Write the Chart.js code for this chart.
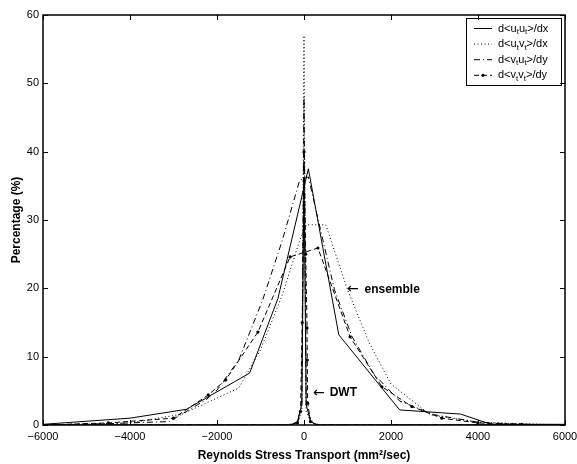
<!DOCTYPE html>
<html>
<head>
<meta charset="utf-8">
<script src="https://cdn.jsdelivr.net/npm/chart.js@4/dist/chart.umd.min.js"></script>
<style>
  html, body { margin: 0; padding: 0; background: #fff; }
  #wrap { width: 577px; height: 464px; position: relative; }
</style>
</head>
<body>
<div id="wrap"><canvas id="c" width="577" height="464"></canvas></div>
<script>
// ---------- data ----------
// Ensemble curves
const ensUUx = [-6000, -4000, -2700, -1250, -600, 100, 800, 2200, 3600, 4300, 6000];
const ensUUy = [0.1, 1.0, 2.3, 7.6, 18.5, 37.5, 13.2, 2.2, 1.6, 0.1, 0.1];

const ensUVx = [-6000, -4000, -2800, -1500, -1000, -500, -100, 50, 500, 1000, 1500, 2000, 2900, 4000, 5000, 6000];
const ensUVy = [0, 0.3, 1.6, 5.4, 11, 19, 27, 29.3, 29.3, 19.8, 12, 6, 1.5, 0.4, 0.2, 0];

const ensVUx = [-6000, -4500, -3100, -2250, -2000, -1500, -950, -500, -100, 100, 400, 700, 1100, 1600, 2200, 3000, 4000, 5000, 6000];
const ensVUy = [0, 0.2, 0.5, 3.7, 5.1, 9.5, 18.3, 27, 35.8, 36.3, 28, 19.8, 13, 7.5, 3.5, 1.5, 0.4, 0.1, 0];

const ensVVx = [-6000, -4500, -3000, -2200, -1800, -1060, -320, 320, 1060, 1790, 2480, 3170, 4000, 5000, 6000];
const ensVVy = [0, 0.3, 1.0, 4.4, 6.6, 13.6, 24.6, 25.9, 12.9, 5.6, 2.7, 1.0, 0.3, 0.1, 0];

// DWT curves (narrow spikes)
const dwtUUx = [-6000, -300, -150, -50, 0, 50, 150, 300, 6000];
const dwtUUy = [0, 0, 0.5, 3, 36, 3, 0.5, 0, 0];

const dwtUVx = [-6000, -300, -150, -50, 0, 50, 150, 300, 6000];
const dwtUVy = [0, 0, 0.3, 2, 57, 2, 0.5, 0, 0];

const dwtVUx = [-6000, -300, -150, -50, 0, 50, 150, 300, 6000];
const dwtVUy = [0, 0, 0.5, 3, 48, 3, 0.8, 0, 0];

const dwtVVx = [-6000, -300, -150, -80, -40, 0, 40, 70, 75, 85, 150, 300, 6000];
const dwtVVy = [0, 0, 0.3, 2, 15, 40, 25, 14.2, 9.5, 3.2, 0.5, 0, 0];

// axis ticks
const xTicks = [-6000, -4000, -2000, 0, 2000, 4000, 6000];
const yTicks = [0, 10, 20, 30, 40, 50, 60];

// legend labels: alternating normal / subscript pieces
const legendLabels = [
  ['d<u', 't', 'u', 't', '>/dx'],
  ['d<u', 't', 'v', 't', '>/dx'],
  ['d<v', 't', 'u', 't', '>/dy'],
  ['d<v', 't', 'v', 't', '>/dy']
];

// annotations (arrow start, text start, height)
const annoText = ['ensemble', 'DWT'];
const annoArrowX = [990, 207];
const annoTextX = [1390, 590];
const annoY = [19.8, 4.7];

// ---------- styles ----------
const FONT = '"Liberation Sans", Arial, Helvetica, sans-serif';
const styles = [
  { dash: [], pr: 0 },            // solid
  { dash: [1, 2.5], pr: 0 },      // dotted
  { dash: [6, 3, 1, 3], pr: 0 },  // dash-dot
  { dash: [5, 3], pr: 1.6 }       // dashed with point markers
];

function pts(xs, ys) { return xs.map((x, i) => ({ x: x, y: ys[i] })); }
function ds(xs, ys, st) {
  return {
    data: pts(xs, ys),
    borderColor: '#000',
    backgroundColor: '#000',
    borderWidth: 1,
    borderDash: st.dash,
    pointRadius: st.pr,
    pointHoverRadius: st.pr,
    pointBorderWidth: 0,
    fill: false,
    tension: 0
  };
}

const datasets = [
  ds(ensUUx, ensUUy, styles[0]),
  ds(ensUVx, ensUVy, styles[1]),
  ds(ensVUx, ensVUy, styles[2]),
  ds(ensVVx, ensVVy, styles[3]),
  ds(dwtUUx, dwtUUy, styles[0]),
  ds(dwtUVx, dwtUVy, styles[1]),
  ds(dwtVUx, dwtVUy, styles[2]),
  ds(dwtVVx, dwtVVy, styles[3])
];

// ---------- plugin: box, inward ticks, legend, annotations ----------
const framePlugin = {
  id: 'frame',
  afterDraw(chart) {
    const ctx = chart.ctx;
    const a = chart.chartArea;
    const xs = chart.scales.x, ys = chart.scales.y;
    ctx.save();
    ctx.setLineDash([]);

    // annotations
    ctx.fillStyle = '#000';
    ctx.textAlign = 'left';
    ctx.textBaseline = 'middle';
    annoText.forEach((t, i) => {
      const py = ys.getPixelForValue(annoY[i]);
      ctx.font = '14px "DejaVu Sans", sans-serif';
      ctx.fillText('\u2190', xs.getPixelForValue(annoArrowX[i]), py);
      ctx.font = 'bold 12px ' + FONT;
      ctx.fillText(t, xs.getPixelForValue(annoTextX[i]), py);
    });

    // legend
    const lx = 466.5, ly = 18.5, lw = 95, lh = 67;
    ctx.fillStyle = '#fff';
    ctx.fillRect(lx, ly, lw, lh);
    ctx.strokeStyle = '#000';
    ctx.lineWidth = 1;
    ctx.strokeRect(lx, ly, lw, lh);
    legendLabels.forEach((parts, i) => {
      const cy = ly + 10 + i * 15.6;
      const st = styles[i];
      ctx.beginPath();
      ctx.setLineDash(st.dash);
      ctx.moveTo(474, cy);
      ctx.lineTo(492, cy);
      ctx.stroke();
      ctx.setLineDash([]);
      if (st.pr > 0) {
        ctx.beginPath();
        ctx.arc(483, cy, st.pr, 0, Math.PI * 2);
        ctx.fillStyle = '#000';
        ctx.fill();
      }
      let tx = 498;
      ctx.fillStyle = '#000';
      ctx.textBaseline = 'middle';
      parts.forEach((p, k) => {
        const sub = k % 2 === 1;
        ctx.font = (sub ? '8px ' : '11px ') + FONT;
        ctx.fillText(p, tx, sub ? cy + 3.5 : cy);
        tx += ctx.measureText(p).width;
      });
    });

    // axes box
    ctx.lineWidth = 1.5;
    ctx.strokeStyle = '#000';
    ctx.strokeRect(a.left, a.top, a.right - a.left, a.bottom - a.top);

    // inward ticks on all sides
    ctx.lineWidth = 1;
    const tl = 5;
    ctx.beginPath();
    xTicks.forEach(v => {
      const px = Math.round(xs.getPixelForValue(v)) + 0.5;
      ctx.moveTo(px, a.bottom); ctx.lineTo(px, a.bottom - tl);
      ctx.moveTo(px, a.top); ctx.lineTo(px, a.top + tl);
    });
    yTicks.forEach(v => {
      const py = Math.round(ys.getPixelForValue(v)) + 0.5;
      ctx.moveTo(a.left, py); ctx.lineTo(a.left + tl, py);
      ctx.moveTo(a.right, py); ctx.lineTo(a.right - tl, py);
    });
    ctx.stroke();
    ctx.restore();
  }
};

new Chart(document.getElementById('c'), {
  type: 'line',
  data: { datasets: datasets },
  options: {
    responsive: false,
    animation: false,
    events: [],
    layout: { padding: { top: 15, right: 12, left: 0, bottom: 0 } },
    plugins: { legend: { display: false }, tooltip: { enabled: false }, title: { display: false } },
    scales: {
      x: {
        type: 'linear',
        min: -6000, max: 6000,
        grid: { display: false, drawTicks: false },
        border: { display: false },
        afterBuildTicks(s) { s.ticks = xTicks.map(v => ({ value: v })); },
        afterFit(s) { s.height = 39; s.paddingLeft = 0; s.paddingRight = 0; },
        ticks: {
          autoSkip: false, maxRotation: 0, minRotation: 0, padding: 5,
          color: '#000', font: { family: FONT, size: 11 },
          callback: v => (v < 0 ? '\u2212' + Math.abs(v) : String(v))
        },
        title: {
          display: true, text: 'Reynolds Stress Transport (mm\u00B2/sec)',
          color: '#000', font: { family: FONT, size: 12, weight: 'bold' },
          padding: { top: 0, bottom: 1 }
        }
      },
      y: {
        type: 'linear',
        min: 0, max: 60,
        grid: { display: false, drawTicks: false },
        border: { display: false },
        afterBuildTicks(s) { s.ticks = yTicks.map(v => ({ value: v })); },
        afterFit(s) { s.width = 43; },
        ticks: {
          padding: 4, color: '#000', font: { family: FONT, size: 11 }
        },
        title: {
          display: true, text: 'Percentage (%)',
          color: '#000', font: { family: FONT, size: 12, weight: 'bold' },
          padding: { top: 9, bottom: 0 }
        }
      }
    }
  },
  plugins: [framePlugin]
});
</script>
</body>
</html>
